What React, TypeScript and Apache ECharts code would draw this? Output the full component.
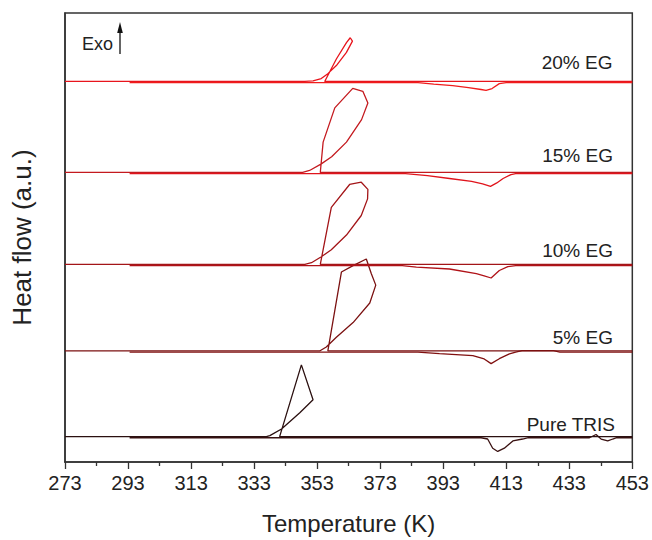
import React, { useEffect, useRef } from "react";
import * as echarts from "echarts";

// Sample names and vertical offsets (a.u.)
const samples = ["20% EG", "15% EG", "10% EG", "5% EG", "Pure TRIS"];
const offsets = [389, 296, 202, 113.5, 26];

// x-axis tick labels (K)
const T_MIN = 273;
const T_MAX = 453;
const T_STEP = 20;

// Cooling runs: [T (K), heat flow (a.u., relative to baseline)]
const cooling20 = [
  [453, 0], [355.4, 0], [359.1, 23], [362.3, 39.7], [363.5, 44.7], [364.2, 41.3],
  [362.3, 29.7], [359.1, 16.3], [356.4, 8], [354.3, 3], [351.7, 0.7], [349.1, 0], [273, 0],
];
const cooling15 = [
  [453, 0], [354.0, 0], [354.9, 31], [358.6, 66], [364.3, 86], [367.5, 83], [369.1, 71],
  [367.1, 54], [362.3, 31], [357.6, 16], [354.2, 8.5], [350.6, 2], [348.4, 0], [273, 0],
];
const cooling10 = [
  [453, 0], [354.0, 0], [357.5, 58.3], [363.3, 81.7], [367.0, 84], [369.1, 76.7], [369.0, 67],
  [367.0, 50], [362.3, 30], [357.5, 15], [354.2, 7.5], [351.2, 1.7], [349.1, 0], [273, 0],
];
const cooling5 = [
  [453, 0], [356.4, 0], [360.7, 80.7], [364.4, 87.3], [368.6, 94], [370.2, 79], [371.6, 67.3],
  [369.7, 49], [364.4, 29], [359.1, 14], [355.9, 4], [353.8, 0], [273, 0],
];
const coolingTris = [
  [453, 0], [341.1, 0], [348.0, 73.3], [351.7, 37.7], [347.5, 24.3], [341.7, 7.7],
  [338.0, 1], [336.9, 0], [273, 0],
];

// Heating runs
const heating20 = [
  [293.5, 0], [385, 0], [390, -1.5], [396, -3], [401, -5], [405, -7], [406.6, -8],
  [408.5, -6], [410.8, -1], [413, 0], [453, 0],
];
const heating15 = [
  [293.5, 0], [381, 0], [388, -2], [395, -5], [402, -8], [405.5, -10.5], [408, -13],
  [410, -9.5], [412, -5], [414.5, -1], [416, 0], [453, 0],
];
const heating10 = [
  [293.5, 0], [380, 0], [384.5, -1.5], [395, -3.5], [403.5, -8.3], [406, -10.5], [408.2, -12.7],
  [410.8, -5], [413.5, -1], [416, 0], [453, 0],
];
const heating5 = [
  [293.5, 0], [385, 0], [391.8, -1.5], [402.4, -3.5], [406, -7], [408.2, -11.7], [410.8, -6.7],
  [414, -1.7], [416, 0], [418, 1.5], [428, 1.5], [430, 0], [453, 0],
];
const heatingTris = [
  [293.5, 0], [405, 0], [407.1, -1.3], [408.7, -10.7], [410.3, -14], [412.4, -10.7], [415.1, -3.3],
  [418.2, -1.3], [420, 0], [439.4, 0], [441.5, 3.3], [443.1, -1.3], [445.2, -3.3], [446.8, -1.3],
  [448, 0], [453, 0],
];

const coolingRuns = [cooling20, cooling15, cooling10, cooling5, coolingTris];
const heatingRuns = [heating20, heating15, heating10, heating5, heatingTris];
const coolColors = ["#e8141c", "#c41a1f", "#a31518", "#7b1111", "#2b1010"];
const heatColors = ["#f01c1c", "#e0141c", "#b01218", "#801010", "#3a1212"];

const FONT = "'Liberation Sans', Arial, sans-serif";

export default function App() {
  const ref = useRef<HTMLDivElement>(null);
  useEffect(() => {
    const chart = echarts.init(ref.current!, null, { renderer: "svg" });
    const series: any[] = [];
    for (let i = samples.length - 1; i >= 0; i--) {
      series.push({
        name: samples[i] + " heating",
        type: "line",
        showSymbol: false,
        symbol: "none",
        lineStyle: { width: 1.3, color: heatColors[i] },
        data: heatingRuns[i].map(([t, h]) => [t - T_MIN, offsets[i] - 1.2 + h]),
      });
      series.push({
        name: samples[i] + " cooling",
        type: "line",
        showSymbol: false,
        symbol: "none",
        lineStyle: { width: 1.3, color: coolColors[i] },
        data: coolingRuns[i].map(([t, h]) => [t - T_MIN, offsets[i] + h]),
      });
    }
    const labelY = [62, 155, 250.5, 337.5, 424];
    const labelRight = [612.5, 613, 613, 613, 615];
    const graphics: any[] = samples.map((s, i) => ({
      type: "text",
      x: labelRight[i],
      y: labelY[i],
      style: {
        text: s,
        fill: "#222",
        font: "19px " + FONT,
        textAlign: "right",
        textVerticalAlign: "middle",
      },
    }));
    graphics.push(
      {
        type: "text",
        x: 82,
        y: 44,
        style: {
          text: "Exo",
          fill: "#222",
          font: "18px " + FONT,
          textAlign: "left",
          textVerticalAlign: "middle",
        },
      },
      {
        type: "line",
        shape: { x1: 120, y1: 54, x2: 120, y2: 30 },
        style: { stroke: "#111", lineWidth: 1.3 },
      },
      {
        type: "polygon",
        shape: { points: [[117.2, 33], [122.8, 33], [120, 22]] },
        style: { fill: "#111" },
      }
    );
    chart.setOption({
      animation: false,
      backgroundColor: "#fff",
      grid: {
        left: 65,
        right: 19,
        top: 13,
        bottom: 68,
        show: true,
        borderColor: "#333",
        borderWidth: 1.5,
        backgroundColor: "transparent",
      },
      xAxis: {
        type: "value",
        min: 0,
        max: T_MAX - T_MIN,
        interval: T_STEP,
        name: "Temperature (K)",
        nameLocation: "middle",
        nameGap: 49,
        nameTextStyle: { fontSize: 24, color: "#222", fontFamily: FONT },
        axisLine: { show: true, onZero: false, lineStyle: { color: "#333", width: 1.5 } },
        axisTick: { show: true, inside: false, length: 7, lineStyle: { color: "#333", width: 1.3 } },
        minorTick: { show: true, splitNumber: 2, length: 4, lineStyle: { color: "#333", width: 1.3 } },
        splitLine: { show: false },
        minorSplitLine: { show: false },
        axisLabel: {
          formatter: (v: number) => String(v + T_MIN),
          fontSize: 20,
          color: "#222",
          margin: 11,
          fontFamily: FONT,
        },
      },
      yAxis: {
        type: "value",
        min: 0,
        max: 459,
        name: "Heat flow (a.u.)",
        nameLocation: "middle",
        nameGap: 30,
        nameRotate: 90,
        nameTextStyle: { fontSize: 26, color: "#222", fontFamily: FONT },
        axisLine: { show: true, lineStyle: { color: "#333", width: 1.5 } },
        axisTick: { show: false },
        axisLabel: { show: false },
        splitLine: { show: false },
      },
      graphic: graphics,
      series,
    });
    return () => chart.dispose();
  }, []);
  return (
    <div
      ref={ref}
      style={{ width: 652, height: 540, position: "fixed", left: 0, top: 0 }}
    />
  );
}
